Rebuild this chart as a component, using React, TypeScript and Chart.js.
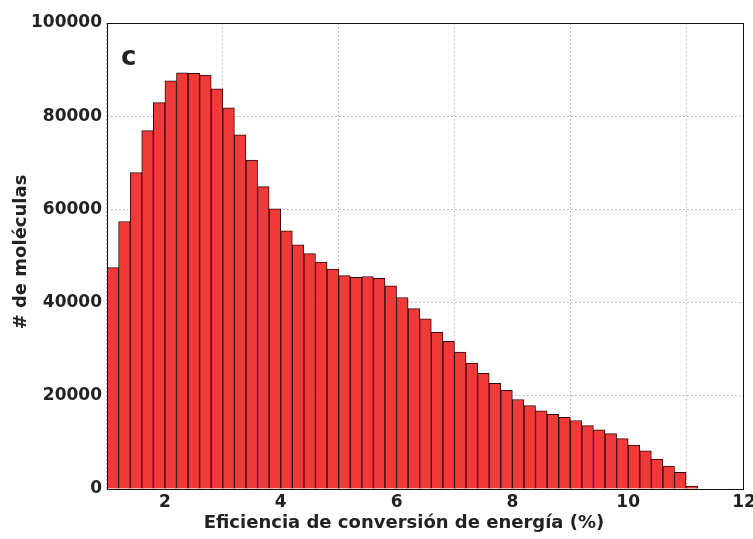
import React, { useEffect, useRef } from "react";
import { Chart, registerables } from "chart.js";

Chart.register(...registerables);

// Histogram bin centres (bin width 0.2, % efficiency)
const binCenters = [
  1.1, 1.3, 1.5, 1.7, 1.9, 2.1, 2.3, 2.5, 2.7, 2.9,
  3.1, 3.3, 3.5, 3.7, 3.9, 4.1, 4.3, 4.5, 4.7, 4.9,
  5.1, 5.3, 5.5, 5.7, 5.9, 6.1, 6.3, 6.5, 6.7, 6.9,
  7.1, 7.3, 7.5, 7.7, 7.9, 8.1, 8.3, 8.5, 8.7, 8.9,
  9.1, 9.3, 9.5, 9.7, 9.9, 10.1, 10.3, 10.5, 10.7, 10.9,
  11.1,
];

// Number of molecules per bin
const counts = [
  47500, 57400, 67900, 76900, 82900, 87600, 89300, 89200, 88800, 85900,
  81800, 76000, 70600, 64900, 60100, 55400, 52400, 50500, 48700, 47200,
  45800, 45400, 45600, 45200, 43600, 41100, 38700, 36500, 33600, 31700,
  29400, 27000, 24800, 22700, 21200, 19200, 17900, 16800, 16000, 15400,
  14700, 13600, 12700, 11900, 10800, 9400, 8200, 6400, 4900, 3600,
  600,
];

const xTicks = [2, 4, 6, 8, 10, 12];
const yTicks = [0, 20000, 40000, 60000, 80000, 100000];

const xTitle = "Eficiencia de conversión de energía (%)";
const yTitle = "# de moléculas";
const panelLabel = "c";

const FONT = "'DejaVu Sans', sans-serif";

export default function App() {
  const ref = useRef<HTMLCanvasElement | null>(null);

  useEffect(() => {
    document.body.style.margin = "0";
    const canvas = ref.current;
    if (!canvas) return;

    const overlay = {
      id: "overlay",
      afterDraw(chart: any) {
        const { ctx, chartArea } = chart;
        ctx.save();
        ctx.strokeStyle = "#111";
        ctx.lineWidth = 1;
        ctx.strokeRect(
          Math.round(chartArea.left) + 0.5,
          Math.round(chartArea.top) + 0.5,
          Math.round(chartArea.right - chartArea.left) - 1,
          Math.round(chartArea.bottom - chartArea.top)
        );
        ctx.fillStyle = "#222";
        ctx.font = `bold 26px ${FONT}`;
        ctx.textAlign = "left";
        ctx.textBaseline = "alphabetic";
        ctx.fillText(panelLabel, 121, 65);
        ctx.font = `bold 18px ${FONT}`;
        ctx.textAlign = "center";
        ctx.textBaseline = "middle";
        ctx.fillText(xTitle, 404, 523);
        ctx.translate(21, 252);
        ctx.rotate(-Math.PI / 2);
        ctx.fillText(yTitle, 0, 0);
        ctx.restore();
      },
    };

    const chart = new Chart(canvas, {
      type: "bar",
      data: {
        datasets: [
          {
            data: binCenters.map((x, i) => ({ x, y: counts[i] })),
            backgroundColor: "#f03a3a",
            borderColor: "#2e0808",
            borderWidth: 1,
            barPercentage: 1,
            categoryPercentage: 1,
            grouped: false,
          },
        ],
      },
      options: {
        animation: false,
        responsive: true,
        maintainAspectRatio: false,
        layout: { padding: { top: 23, right: 9, left: 0, bottom: 0 } },
        plugins: { legend: { display: false }, tooltip: { enabled: false } },
        scales: {
          x: {
            type: "linear",
            min: 1,
            max: 12,
            offset: false,
            afterBuildTicks: (scale: any) => {
              scale.ticks = xTicks.map((v) => ({ value: v }));
            },
            afterFit: (scale: any) => {
              scale.height = 50;
              scale.paddingRight = 0;
              scale.paddingLeft = 0;
            },
            grid: { color: "#b0b0b0", drawTicks: false },
            border: { display: false, dash: [1.5, 2.5] } as any,
            ticks: {
              padding: 3,
              color: "#222",
              font: { family: FONT, size: 17, weight: "bold" },
              maxRotation: 0,
              autoSkip: false,
              callback: (v: any) => String(v),
            },
          },
          y: {
            type: "linear",
            min: 0,
            max: 100000,
            afterBuildTicks: (scale: any) => {
              scale.ticks = yTicks.map((v) => ({ value: v }));
            },
            afterFit: (scale: any) => {
              scale.width = 107;
            },
            grid: { color: "#b0b0b0", drawTicks: false },
            border: { display: false, dash: [1.5, 2.5] } as any,
            ticks: {
              padding: 5,
              color: "#222",
              font: { family: FONT, size: 17, weight: "bold" },
              autoSkip: false,
              callback: (v: any) => String(v),
            },
          },
        },
      } as any,
      plugins: [overlay],
    });

    return () => chart.destroy();
  }, []);

  return (
    <div style={{ width: 753, height: 539, position: "relative" }}>
      <canvas ref={ref} />
    </div>
  );
}
